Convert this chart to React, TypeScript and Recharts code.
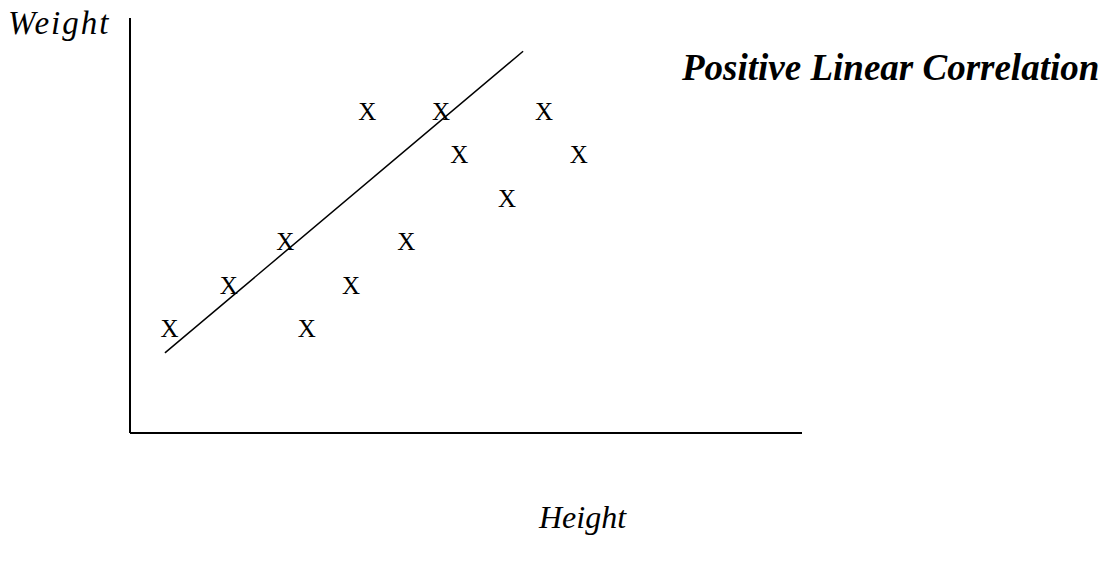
import { ComposedChart, XAxis, YAxis, Scatter, Line } from "recharts";

// heights / weights (axis units 0-100, no ticks shown)
const heights = [5.9, 14.7, 23.1, 26.3, 32.9, 35.3, 41.1, 46.3, 49.0, 56.1, 61.6, 66.8];
const weights = [25.1, 35.5, 46.0, 25.1, 35.5, 77.3, 46.0, 77.3, 67.0, 56.5, 77.3, 67.0];

// fitted line end points
const lineX = [5.2, 58.5];
const lineY = [19.3, 92.0];

const title = "Positive Linear Correlation";
const xLabel = "Height";
const yLabel = "Weight";

const points = heights.map((h, i) => ({ x: h, y: weights[i] }));
const trend = lineX.map((x, i) => ({ x, y: lineY[i] }));

const serif = "'Liberation Serif', 'Times New Roman', serif";

const XMark = (props: any) => {
  const { cx, cy } = props;
  return (
    <text x={cx} y={cy + 8} textAnchor="middle" fontFamily={serif} fontSize={25} fill="#000">
      X
    </text>
  );
};

export default function App() {
  return (
    <div style={{ position: "absolute", left: 0, top: 0, background: "#fff" }}>
      <ComposedChart
        width={1109}
        height={563}
        margin={{ top: 18, right: 307, bottom: 129, left: 129 }}
      >
        <XAxis
          type="number"
          dataKey="x"
          domain={[0, 100]}
          height={1}
          tick={false}
          tickLine={false}
          axisLine={{ stroke: "#000", strokeWidth: 2 }}
        />
        <YAxis
          type="number"
          dataKey="y"
          domain={[0, 100]}
          width={1}
          tick={false}
          tickLine={false}
          axisLine={{ stroke: "#000", strokeWidth: 2 }}
        />
        <Line
          data={trend}
          dataKey="y"
          stroke="#000"
          strokeWidth={1.5}
          dot={false}
          activeDot={false}
          isAnimationActive={false}
        />
        <Scatter data={points} shape={<XMark />} isAnimationActive={false} />
        <text
          x={8}
          y={34}
          fontFamily={serif}
          fontStyle="italic"
          fontSize={33}
          letterSpacing={2}
          fill="#000"
        >
          {yLabel}
        </text>
        <text x={539} y={528} fontFamily={serif} fontStyle="italic" fontSize={32} fill="#000">
          {xLabel}
        </text>
        <text
          x={682}
          y={80}
          fontFamily={serif}
          fontStyle="italic"
          fontWeight="bold"
          fontSize={37}
          fill="#000"
        >
          {title}
        </text>
      </ComposedChart>
    </div>
  );
}
